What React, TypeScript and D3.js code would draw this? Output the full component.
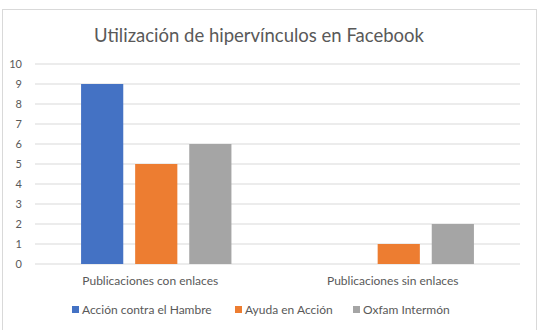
import React from "react";
import * as d3 from "d3";

const categories = ["Publicaciones con enlaces", "Publicaciones sin enlaces"];
const seriesNames = ["Acción contra el Hambre", "Ayuda en Acción", "Oxfam Intermón"];
const accionContraElHambre = [9, 0];
const ayudaEnAccion = [5, 1];
const oxfamIntermon = [6, 2];
const yTicks = [0, 1, 2, 3, 4, 5, 6, 7, 8, 9, 10];
const colors = ["#4472C4", "#ED7D31", "#A5A5A5"];

const series = [accionContraElHambre, ayudaEnAccion, oxfamIntermon];

export default function App() {
  const W = 540, H = 330;
  const left = 35, right = 520, top = 64, bottom = 264;
  const font = "Lato, 'Open Sans', sans-serif";
  const x0 = d3.scaleBand<string>().domain(categories).range([left, right]).paddingInner(0.38).paddingOuter(0.19);
  const x1 = d3.scaleBand<string>().domain(seriesNames).range([0, x0.bandwidth()]).paddingInner(0.22);
  const y = d3.scaleLinear().domain([0, 10]).range([bottom, top]);
  const legendX = [72, 235, 353];
  return (
    <svg width={W} height={H} style={{ position: "absolute", left: 0, top: 0 }}>
      <rect x={0} y={0} width={W} height={H} fill="#fff" />
      <rect x={2.5} y={9.5} width={534} height={340} fill="#fff" stroke="#D9D9D9" strokeWidth={1} />
      <text x={259} y={42} textAnchor="middle" fontFamily={font} fontSize={18.5} fill="#595959">
        Utilización de hipervínculos en Facebook
      </text>
      {yTicks.map((t) => (
        <g key={t}>
          <line x1={left} x2={right} y1={y(t)} y2={y(t)} stroke="#D9D9D9" strokeWidth={1} />
          <text x={22} y={y(t) + 4} textAnchor="end" fontFamily={font} fontSize={11} fill="#595959">
            {t}
          </text>
        </g>
      ))}
      {categories.map((c, ci) => (
        <g key={c}>
          {series.map((s, si) =>
            s[ci] > 0 ? (
              <rect
                key={si}
                x={(x0(c) as number) + (x1(seriesNames[si]) as number)}
                y={y(s[ci])}
                width={x1.bandwidth()}
                height={y(0) - y(s[ci])}
                fill={colors[si]}
              />
            ) : null
          )}
          <text x={(x0(c) as number) + x0.bandwidth() / 2 - 6} y={285} textAnchor="middle" fontFamily={font} fontSize={12} fill="#595959">
            {c}
          </text>
        </g>
      ))}
      {seriesNames.map((n, i) => (
        <g key={n}>
          <rect x={legendX[i]} y={306} width={7} height={7} fill={colors[i]} />
          <text x={legendX[i] + 10} y={314} fontFamily={font} fontSize={12} fill="#595959">
            {n}
          </text>
        </g>
      ))}
    </svg>
  );
}
